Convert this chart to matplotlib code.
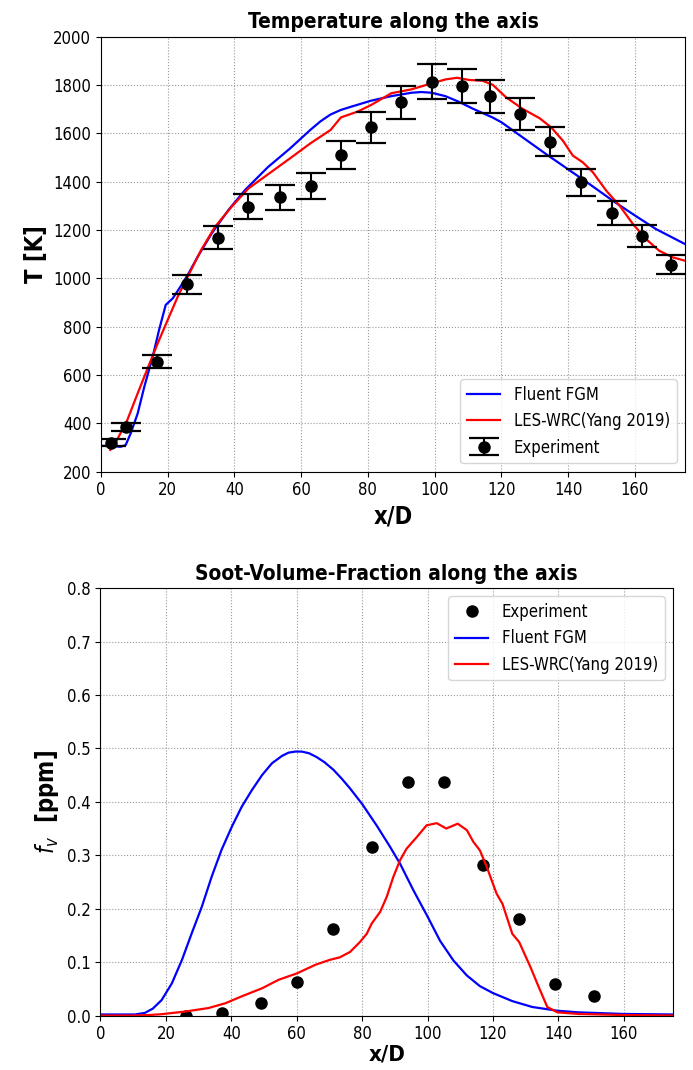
import numpy as np
import matplotlib
matplotlib.use('Agg')
import matplotlib.pyplot as plt

plt.rcParams['font.family'] = ['DejaVu Sans']
plt.rcParams['font.stretch'] = 'condensed'

# Temperature along the axis - experiment (x/D, T, error)
tempExpX = [3, 7.5, 16.7, 25.7, 35, 44.1, 53.5, 62.8, 71.9, 80.9, 90, 99.3,
            108.3, 116.7, 125.7, 134.7, 143.9, 153, 162.1, 170.8]
tempExpT = [320, 385, 655, 975, 1168, 1297, 1335, 1383, 1510, 1625, 1728, 1814,
            1796, 1753, 1680, 1566, 1397, 1272, 1174, 1057]
tempExpErr = [14, 15, 27, 38, 48, 51, 53, 55, 59, 65, 69, 73,
              69, 69, 67, 61, 55, 50, 46, 40]

# Fluent FGM temperature
fgmTempX = [0, 3, 5.9, 7.4, 8.9, 11, 13, 15.5, 17.4, 19.4, 21.5, 23.5, 26, 29,
            33.2, 38.2, 43.2, 50, 56.7, 62.8, 65.8, 68.8, 71.9, 74.9, 80.9, 87, 93, 96,
            99.1, 103.2, 107.2, 111.3, 117.3, 120, 126.4, 133.4, 139.9, 146.4, 153.4,
            159.8, 166.3, 175]
fgmTempT = [307, 306, 303, 310, 358, 441, 552, 676, 786, 890, 917, 959, 1014, 1090,
            1186, 1283, 1366, 1460, 1538, 1615, 1650, 1678, 1697, 1710, 1735, 1754, 1768,
            1771, 1768, 1754, 1731, 1703, 1666, 1646, 1583, 1514, 1452, 1390, 1321,
            1262, 1204, 1142]

# LES-WRC (Yang 2019) temperature
lesTempX = [2.8, 4.8, 7.9, 11, 14, 17, 20, 23, 26, 30, 34.2, 39.2, 44.2, 50,
            56.7, 62.8, 68.8, 71.9, 76.9, 80.9, 87, 93, 99.1, 103.2, 106.7, 110.3,
            114.3, 117.4, 121.4, 126.4, 131.4, 134.9, 138.4, 141.4, 144.4, 147.4,
            151.4, 155.4, 159.4, 163.3, 167.3, 171.3, 175]
lesTempT = [290, 331, 414, 524, 628, 731, 828, 924, 1007, 1117, 1214, 1297, 1372, 1430,
            1497, 1559, 1614, 1666, 1690, 1717, 1766, 1782, 1807, 1823, 1830, 1821,
            1818, 1801, 1749, 1701, 1663, 1625, 1570, 1508, 1480, 1439,
            1363, 1301, 1225, 1163, 1114, 1087, 1073]

# Soot volume fraction - experiment
sootExpX = [26, 37, 49, 60, 71, 83, 94, 105, 117, 128, 139, 151]
sootExpFv = [0.0, 0.004, 0.023, 0.063, 0.162, 0.316, 0.437, 0.437, 0.281, 0.181, 0.059, 0.037]

# Fluent FGM soot
fgmSootX = [0, 5, 10.6, 13.6, 16, 18.7, 21.8, 24.9, 27.9, 31, 34, 37, 40.2, 43.2, 46.3,
            49.4, 52.4, 55.5, 57.5, 59.6, 61.5, 63.7, 66, 68.5, 71.2, 73.8, 76.3, 80.1,
            84.5, 88.5, 91.6, 95.7, 100.1, 103.8, 107.9, 112, 116, 120, 125.9, 132,
            139.7, 146, 159.7, 175]
fgmSootFv = [0.002, 0.002, 0.002, 0.005, 0.013, 0.029, 0.06, 0.104, 0.154, 0.204, 0.26,
             0.31, 0.354, 0.391, 0.422, 0.45, 0.472, 0.486, 0.492, 0.494, 0.494, 0.491,
             0.484, 0.474, 0.46, 0.443, 0.425, 0.395, 0.355, 0.316, 0.284, 0.234, 0.184,
             0.14, 0.103, 0.075, 0.055, 0.042, 0.027, 0.016, 0.009, 0.006, 0.003, 0.002]

# LES-WRC (Yang 2019) soot
lesSootX = [0, 10, 15, 18.7, 25.9, 33, 38.2, 43.2, 49.4, 54.5, 60.1, 65.7, 70, 73.2,
            76.3, 79.3, 81.4, 82.9, 85.5, 87.5, 89.5, 91.6, 93.6, 96.7, 99.7, 102.8,
            105.7, 109.2, 112, 114, 116, 118.1, 121.1, 122.9, 125.9, 128, 131.5, 134,
            136.6, 139.7, 146, 159.7, 175]
lesSootFv = [0.0, 0.0, 0.001, 0.0025, 0.0075, 0.014, 0.023, 0.036, 0.051, 0.067, 0.079,
             0.095, 0.104, 0.109, 0.119, 0.1375, 0.153, 0.172, 0.194, 0.222, 0.259, 0.291,
             0.3125, 0.334, 0.356, 0.36, 0.35, 0.359, 0.347, 0.325, 0.309, 0.278, 0.228,
             0.209, 0.153, 0.1375, 0.09, 0.053, 0.016, 0.006, 0.003, 0.001, 0.0]

fig = plt.figure(figsize=(6.93, 10.70), dpi=100)
axT = fig.add_axes([0.1457, 0.5592, 0.8427, 0.4065])
axS = fig.add_axes([0.145, 0.0509, 0.826, 0.3995])

# Temperature panel
axT.plot(fgmTempX, fgmTempT, color='blue', lw=1.6, label='Fluent FGM')
axT.plot(lesTempX, lesTempT, color='red', lw=1.6, label='LES-WRC(Yang 2019)')
axT.errorbar(tempExpX, tempExpT, yerr=tempExpErr, fmt='o', color='black', ms=8,
             ecolor='black', elinewidth=1.5, capsize=11, capthick=1.6, label='Experiment')
axT.set_xlim(0, 175)
axT.set_ylim(200, 2000)
axT.set_xticks(np.arange(0, 161, 20))
axT.set_yticks(np.arange(200, 2001, 200))
axT.grid(True, linestyle=':', color='0.6', lw=0.8)
axT.set_title('Temperature along the axis', fontsize=15, fontweight='bold')
axT.set_xlabel('x/D', fontsize=17, fontweight='bold')
axT.set_ylabel('T [K]', fontsize=17, fontweight='bold')
axT.tick_params(labelsize=12)
axT.legend(loc='lower right', fontsize=12)

# Soot panel
axS.plot(sootExpX, sootExpFv, 'o', color='black', ms=8, label='Experiment')
axS.plot(fgmSootX, fgmSootFv, color='blue', lw=1.6, label='Fluent FGM')
axS.plot(lesSootX, lesSootFv, color='red', lw=1.6, label='LES-WRC(Yang 2019)')
axS.set_xlim(0, 175)
axS.set_ylim(0, 0.8)
axS.set_xticks(np.arange(0, 161, 20))
axS.set_yticks(np.arange(0, 0.81, 0.1))
axS.grid(True, linestyle=':', color='0.6', lw=0.8)
axS.set_title('Soot-Volume-Fraction along the axis', fontsize=15, fontweight='bold')
axS.set_xlabel('x/D', fontsize=16, fontweight='bold', labelpad=1)
axS.set_ylabel(r'$f_v$  [ppm]', fontsize=17, fontweight='bold')
axS.tick_params(labelsize=12)
axS.legend(loc='upper right', fontsize=12)

fig.savefig('out.png', dpi=100)
